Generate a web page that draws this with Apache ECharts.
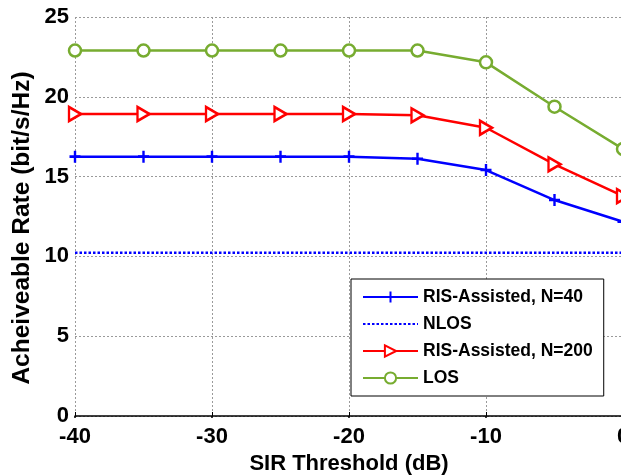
<!DOCTYPE html>
<html>
<head>
<meta charset="utf-8">
<script src="https://cdn.jsdelivr.net/npm/echarts@6/dist/echarts.min.js"></script>
<style>
  html, body { margin: 0; padding: 0; background: #fff; overflow: hidden; }
  #chart { width: 621px; height: 475px; }
</style>
</head>
<body>
<div id="chart"></div>
<script>
// SIR threshold values (dB)
const sirThreshold = [-40, -35, -30, -25, -20, -15, -10, -5, 0];

// Achievable rate (bit/s/Hz) per scheme
const risN40  = [16.25, 16.25, 16.25, 16.25, 16.25, 16.12, 15.41, 13.53, 12.17];
const nlos    = [10.23, 10.23, 10.23, 10.23, 10.23, 10.23, 10.23, 10.23, 10.23];
const risN200 = [18.92, 18.92, 18.92, 18.92, 18.92, 18.84, 18.06, 15.77, 13.78];
const los     = [22.90, 22.90, 22.90, 22.90, 22.90, 22.90, 22.16, 19.38, 16.73];

const seriesNames = ['RIS-Assisted, N=40', 'NLOS', 'RIS-Assisted, N=200', 'LOS'];
const yTitle = 'Acheiveable Rate (bit/s/Hz)';
const xTitle = 'SIR Threshold (dB)';

const FONT = '"Liberation Sans", Arial, sans-serif';
const BLUE = '#0000FF', RED = '#FF0000', GREEN = '#77AC30';

const pairs = ys => sirThreshold.map((x, i) => [x, ys[i]]);

const chart = echarts.init(document.getElementById('chart'), null, { renderer: 'canvas' });

const gridLine = { show: true, lineStyle: { color: '#9a9a9a', width: 1, type: [2, 2] } };

chart.setOption({
  animation: false,
  backgroundColor: '#fff',
  // the plot area runs slightly past the right edge of the canvas
  grid: { left: 75, top: 17, width: 548, height: 399, containLabel: false, outerBoundsMode: 'none' },
  graphic: [{
    type: 'text',
    x: 22,
    y: 228,
    rotation: Math.PI / 2,
    style: {
      text: yTitle,
      fontFamily: FONT, fontWeight: 'bold', fontSize: 24.5, fill: '#000',
      align: 'center', verticalAlign: 'middle'
    }
  }],
  legend: {
    orient: 'vertical',
    left: 351,
    top: 279,
    padding: [9, 11, 9, 11],
    itemWidth: 55,
    itemHeight: 14,
    itemGap: 9,
    backgroundColor: '#fff',
    borderColor: '#000',
    borderWidth: 1,
    borderRadius: 0,
    textStyle: { fontFamily: FONT, fontWeight: 'bold', fontSize: 17.5, color: '#000', lineHeight: 18 },
    data: [
      seriesNames[0],
      { name: seriesNames[1], itemStyle: { opacity: 0 } },
      seriesNames[2],
      seriesNames[3]
    ]
  },
  xAxis: [{
    type: 'value',
    min: -40, max: 0, interval: 10,
    name: xTitle,
    nameLocation: 'middle',
    nameGap: 34,
    nameTextStyle: { fontFamily: FONT, fontWeight: 'bold', fontSize: 22, color: '#000' },
    axisLine: { show: true, onZero: false, lineStyle: { color: '#000', width: 1.5 } },
    axisTick: { show: true, inside: true, length: 4, lineStyle: { color: '#000' } },
    axisLabel: { fontFamily: FONT, fontWeight: 'bold', fontSize: 22, color: '#000', margin: 10 },
    splitLine: gridLine
  }, {
    type: 'value',
    position: 'top',
    min: -40, max: 0, interval: 10,
    axisLine: { show: false },
    axisTick: { show: true, inside: true, length: 2, lineStyle: { color: '#000', width: 1.5 } },
    axisLabel: { show: false },
    splitLine: { show: false }
  }],
  yAxis: {
    type: 'value',
    min: 0, max: 25, interval: 5,
    axisLine: { show: true, lineStyle: { color: '#000', width: 1.5 } },
    axisTick: { show: true, inside: true, length: 4, lineStyle: { color: '#000' } },
    axisLabel: { fontFamily: FONT, fontWeight: 'bold', fontSize: 22, color: '#000', margin: 6 },
    splitLine: gridLine
  },
  series: [
    {
      name: seriesNames[0],
      type: 'line',
      data: pairs(risN40),
      symbol: 'path://M5,0L5,10M0,5L10,5',
      symbolSize: [11, 12],
      showAllSymbol: true,
      lineStyle: { color: BLUE, width: 2.5 },
      itemStyle: { color: 'none', borderColor: BLUE, borderWidth: 2.5 },
      z: 4
    },
    {
      name: seriesNames[1],
      type: 'line',
      data: pairs(nlos),
      symbol: 'none',
      lineStyle: { color: BLUE, width: 2.5, type: [2.5, 2] },
      itemStyle: { color: BLUE },
      z: 3
    },
    {
      name: seriesNames[2],
      type: 'line',
      data: pairs(risN200),
      symbol: 'triangle',
      symbolRotate: -90,
      symbolSize: [14, 12],
      showAllSymbol: true,
      lineStyle: { color: RED, width: 2.5 },
      itemStyle: { color: '#fff', borderColor: RED, borderWidth: 2.5 },
      z: 5
    },
    {
      name: seriesNames[3],
      type: 'line',
      data: pairs(los),
      symbol: 'circle',
      symbolSize: 12,
      showAllSymbol: true,
      lineStyle: { color: GREEN, width: 2.5 },
      itemStyle: { color: '#fff', borderColor: GREEN, borderWidth: 2.5 },
      z: 6
    }
  ]
});
</script>
</body>
</html>
